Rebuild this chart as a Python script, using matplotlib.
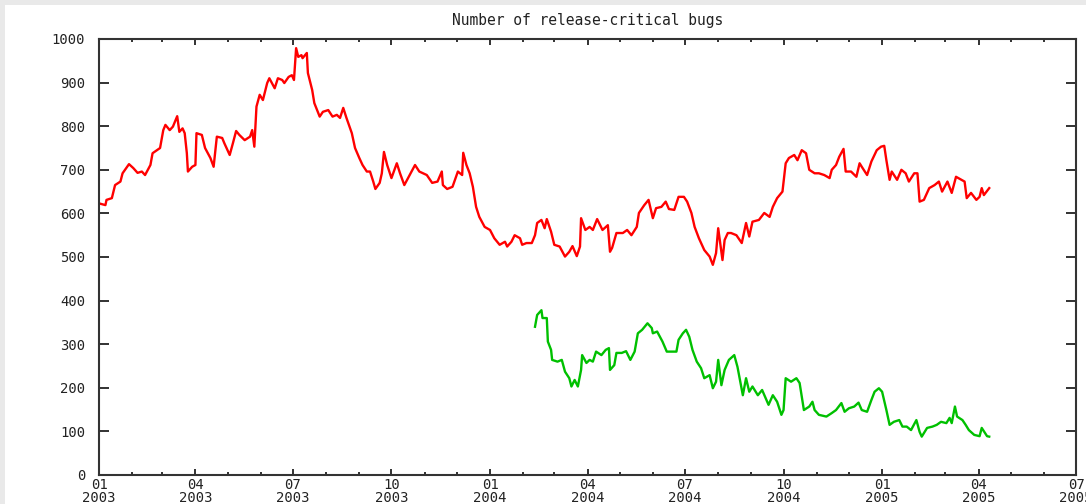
import pandas as pd
import matplotlib
matplotlib.use("Agg")
import matplotlib.pyplot as plt
from matplotlib.patches import Rectangle

# Release-critical bug counts, days counted from 2003-01-01
start = pd.Timestamp("2003-01-01")

all_days = [0, 6, 7, 12, 15, 20, 22, 28, 32, 36, 40, 43, 48, 50, 57, 60, 62, 66, 69, 73,
            75, 78, 80, 82, 83, 87, 90, 91, 96, 99, 104, 107, 110, 115, 117, 119, 122, 125,
            128, 131, 136, 141, 143, 145, 147, 150, 153, 157, 159, 164, 167, 171, 173, 177,
            180, 182, 184, 186, 189, 190, 194, 195, 199, 201, 206, 209, 214, 218, 222, 225,
            228, 231, 236, 239, 243, 246, 250, 253, 256, 258, 262, 264, 266, 269, 273, 278,
            281, 285, 290, 295, 299, 306, 311, 316, 320, 321, 325, 330, 335, 339, 340, 343,
            346, 349, 352, 355, 360, 365, 369, 374, 379, 381, 385, 388, 393, 395, 399, 404,
            407, 409, 413, 416, 418, 422, 425, 430, 435, 439, 442, 446, 449, 450, 454, 458,
            461, 465, 470, 475, 477, 479, 483, 489, 493, 497, 502, 504, 509, 513, 517, 520,
            525, 529, 532, 537, 541, 546, 549, 553, 556, 560, 565, 570, 573, 576, 578, 582,
            584, 587, 590, 595, 600, 604, 607, 610, 616, 621, 626, 629, 633, 638, 641, 644,
            649, 652, 656, 660, 663, 668, 672, 677, 682, 684, 688, 691, 695, 697, 702, 707,
            710, 712, 717, 721, 726, 730, 733, 735, 738, 740, 745, 749, 753, 756, 761, 764,
            766, 770, 775, 780, 784, 787, 792, 796, 800, 805, 808, 810, 814, 819, 822, 824,
            826, 831]
all_bugs = [623, 619, 631, 635, 665, 673, 692, 713, 704, 693, 696, 688, 711, 738, 750, 791,
            803, 791, 799, 823, 787, 795, 784, 738, 696, 707, 711, 784, 780, 750, 727, 707,
            776, 773, 761, 750, 734, 761, 789, 780, 768, 776, 791, 753, 845, 872, 860, 899,
            910, 887, 910, 906, 899, 913, 917, 906, 979, 959, 963, 956, 968, 922, 883, 853,
            822, 833, 837, 822, 826, 819, 842, 819, 784, 750, 727, 711, 696, 696, 673, 656,
            670, 692, 741, 711, 681, 715, 692, 665, 688, 711, 696, 688, 670, 673, 696, 665,
            656, 661, 696, 688, 739, 711, 692, 661, 615, 592, 569, 562, 543, 528, 535, 524,
            535, 550, 543, 528, 532, 532, 550, 578, 585, 566, 587, 558, 528, 524, 501, 512,
            525, 502, 524, 589, 562, 569, 562, 587, 562, 573, 512, 521, 555, 555, 562, 550,
            569, 601, 619, 631, 589, 612, 615, 627, 610, 608, 638, 638, 627, 601, 569, 543,
            516, 501, 482, 509, 566, 493, 539, 555, 555, 550, 532, 578, 547, 581, 585, 601,
            592, 615, 635, 650, 715, 727, 734, 722, 745, 738, 700, 692, 692, 688, 681, 700,
            711, 730, 748, 696, 696, 684, 715, 707, 688, 719, 745, 753, 755, 722, 677, 696,
            677, 700, 692, 673, 692, 692, 627, 631, 658, 665, 673, 650, 673, 647, 684, 677,
            673, 635, 647, 631, 638, 658, 642, 658]

new_days = [407, 409, 413, 414, 418, 419, 422, 423, 428, 432, 435, 439, 441, 444, 447, 450,
            451, 455, 458, 461, 464, 469, 473, 476, 477, 481, 483, 488, 492, 496, 500, 503,
            507, 512, 516, 517, 521, 526, 530, 535, 539, 541, 545, 548, 551, 554, 558, 562,
            565, 570, 573, 576, 578, 581, 584, 588, 593, 596, 601, 604, 607, 610, 615, 619,
            625, 629, 633, 637, 639, 641, 646, 651, 654, 656, 658, 663, 666, 668, 672, 679,
            684, 688, 693, 696, 700, 705, 709, 712, 717, 721, 724, 728, 731, 735, 738, 742,
            747, 750, 754, 758, 763, 766, 768, 773, 778, 782, 786, 791, 794, 796, 799, 801,
            806, 809, 812, 817, 822, 824, 829, 831]
new_bugs = [340, 367, 378, 360, 360, 306, 287, 264, 260, 264, 237, 222, 203, 218, 203, 241,
            275, 257, 264, 260, 283, 275, 287, 291, 241, 252, 280, 280, 284, 264, 283, 325,
            333, 348, 337, 325, 329, 306, 283, 283, 283, 310, 325, 333, 317, 287, 260, 245,
            222, 229, 199, 214, 264, 206, 241, 264, 275, 248, 183, 222, 191, 203, 183, 195,
            161, 183, 168, 138, 149, 222, 214, 222, 211, 180, 149, 157, 168, 149, 138, 134,
            142, 149, 165, 145, 153, 157, 166, 149, 145, 172, 191, 199, 191, 149, 115, 122,
            126, 111, 111, 103, 126, 99, 88, 108, 111, 115, 122, 119, 131, 119, 157, 134,
            126, 115, 103, 92, 89, 108, 89, 88]

y_ticks = list(range(0, 1001, 100))
x_major = pd.date_range("2003-01-01", "2005-07-01", freq="3MS")
x_minor = pd.date_range("2003-01-01", "2005-07-01", freq="MS")

all_dates = start + pd.to_timedelta(all_days, unit="D")
new_dates = start + pd.to_timedelta(new_days, unit="D")

font = "DejaVu Sans Mono"
ink = "#222222"
fig = plt.figure(figsize=(10.86, 5.04), dpi=100)
fig.patch.set_facecolor("white")
# thin grey page edge along top and left
fig.add_artist(Rectangle((0, 1 - 5 / 504), 1, 5 / 504, transform=fig.transFigure,
                         facecolor="#e9e9e9", edgecolor="none"))
fig.add_artist(Rectangle((0, 0), 5 / 1086, 1, transform=fig.transFigure,
                         facecolor="#e9e9e9", edgecolor="none"))

ax = fig.add_axes([99 / 1086, 29 / 504, 977 / 1086, 436 / 504])
ax.plot(all_dates, all_bugs, color="#ff0000", lw=1.7)
ax.plot(new_dates, new_bugs, color="#00c000", lw=1.7)

ax.set_xlim(x_major[0], x_major[-1])
ax.set_ylim(0, 1000)
ax.set_yticks(y_ticks)
ax.set_yticklabels([str(v) for v in y_ticks], fontname=font, fontsize=10, color=ink)
ax.set_xticks(x_major)
ax.set_xticklabels([d.strftime("%m\n%Y") for d in x_major], fontname=font,
                   fontsize=10, color=ink, linespacing=0.95)
ax.set_xticks(x_minor, minor=True)

ax.tick_params(axis="y", direction="in", length=7, width=1.3, pad=10,
               left=True, right=True, colors=ink)
ax.tick_params(axis="x", which="major", direction="in", length=4, width=1.3, pad=2,
               top=True, bottom=True, colors=ink)
ax.tick_params(axis="x", which="minor", direction="in", length=2.5, width=1.3,
               top=True, bottom=True, colors=ink)
for s in ax.spines.values():
    s.set_linewidth(1.5)
    s.set_color("#333333")

ax.set_title("Number of release-critical bugs", fontname=font, fontsize=10.5,
             color=ink, pad=10)

plt.savefig("out.png", dpi=100)
